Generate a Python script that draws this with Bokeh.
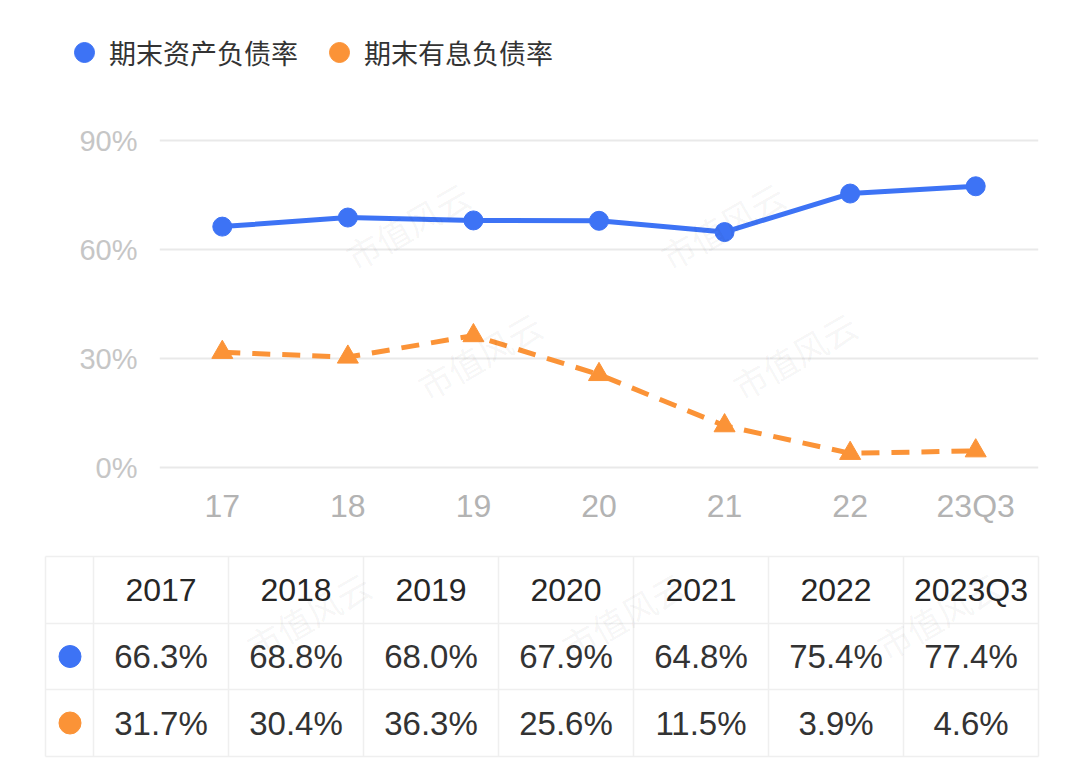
from bokeh.plotting import figure
from bokeh.layouts import column
from bokeh.models import (FactorRange, Range1d, FixedTicker, PrintfTickFormatter,
                          Legend, LegendItem, Label, ColumnDataSource)
from bokeh.embed import file_html
from bokeh.resources import INLINE
from bokeh.core.properties import value

# ---- data ----
categories = ["17", "18", "19", "20", "21", "22", "23Q3"]
years = ["2017", "2018", "2019", "2020", "2021", "2022", "2023Q3"]
asset_liability_ratio = [66.3, 68.8, 68.0, 67.9, 64.8, 75.4, 77.4]
interest_debt_ratio = [31.7, 30.4, 36.3, 25.6, 11.5, 3.9, 4.6]
y_ticks = [0, 30, 60, 90]
series_names = ["期末资产负债率", "期末有息负债率"]

BLUE = "#3d73f5"
ORANGE = "#fb9337"
CJK = "Noto Sans CJK SC"
NUM = "Liberation Sans"
W = 1083
LEGEND_H = 100
CHART_H = 440
TABLE_H = 237


def blank_panel(height):
    f = figure(width=W, height=height, x_range=Range1d(0, W), y_range=Range1d(height, 0),
               output_backend="svg", toolbar_location=None, min_border=0)
    f.axis.visible = False
    f.grid.visible = False
    f.outline_line_color = None
    f.background_fill_color = "white"
    f.border_fill_color = "white"
    f.frame_align = False
    return f


# ---- legend strip ----
lg = blank_panel(LEGEND_H)
nan = float("nan")
sw_a = lg.scatter(x=[nan], y=[nan], marker="circle", fill_color=BLUE, line_color=BLUE)
sw_b = lg.scatter(x=[nan], y=[nan], marker="circle", fill_color=ORANGE, line_color=ORANGE)
legend = Legend(items=[LegendItem(label=series_names[0], renderers=[sw_a]),
                       LegendItem(label=series_names[1], renderers=[sw_b])],
                orientation="horizontal", location=(59, LEGEND_H - 77),
                glyph_width=50, glyph_height=50, label_standoff=0, spacing=16,
                padding=0, margin=0, border_line_color=None,
                background_fill_alpha=0, label_text_font=CJK,
                label_text_font_size="27px", label_text_color="#333333")
lg.add_layout(legend)

# ---- line chart ----
frame_left, frame_right = 159, 1038
chart_top, chart_bottom = 110, 480          # frame edges in page pixels
frame_top, frame_bottom = chart_top - LEGEND_H, chart_bottom - LEGEND_H
px_per_pct = (467 - 140) / 90.0
y_start = -(chart_bottom - 467) / px_per_pct
y_end = 90 + (140 - chart_top) / px_per_pct

p = figure(width=W, height=CHART_H, x_range=FactorRange(factors=categories),
           y_range=Range1d(y_start, y_end), output_backend="svg",
           toolbar_location=None, min_border_left=frame_left,
           min_border_right=W - frame_right, min_border_top=frame_top,
           min_border_bottom=CHART_H - frame_bottom)
p.frame_align = False
p.outline_line_color = None
p.background_fill_color = "white"
p.border_fill_color = "white"

p.xgrid.grid_line_color = None
p.ygrid.ticker = FixedTicker(ticks=y_ticks)
p.ygrid.grid_line_color = "#e9e9e9"
p.ygrid.grid_line_width = 2

for ax in (p.xaxis[0], p.yaxis[0]):
    ax.axis_line_color = None
    ax.major_tick_line_color = None
    ax.minor_tick_line_color = None
p.yaxis.ticker = FixedTicker(ticks=y_ticks)
p.yaxis.formatter = PrintfTickFormatter(format="%d%%")
p.yaxis.major_label_text_font = NUM
p.yaxis.major_label_text_font_size = "29px"
p.yaxis.major_label_text_color = "#c6c6c6"
p.yaxis.major_label_standoff = 16
p.xaxis.major_label_text_font = NUM
p.xaxis.major_label_text_font_size = "32px"
p.xaxis.major_label_text_color = "#b3b3b3"
p.xaxis.major_label_standoff = 1

src = ColumnDataSource(dict(cat=categories, a=asset_liability_ratio, b=interest_debt_ratio))
p.line("cat", "a", source=src, line_color=BLUE, line_width=5)
p.scatter("cat", "a", source=src, marker="circle", size=19, fill_color=BLUE, line_color=BLUE)
p.line("cat", "b", source=src, line_color=ORANGE, line_width=5, line_dash="18 12")
p.scatter("cat", "b", source=src, marker="triangle", size=21, fill_color=ORANGE, line_color=ORANGE)

# ---- data table ----
t = blank_panel(TABLE_H)
col_edges = [45, 93] + [93 + 135 * (i + 1) for i in range(len(years))]
row_edges = [16, 83, 149, 216]
BORDER = "#efefef"
t.segment(x0=[col_edges[0]] * len(row_edges), x1=[col_edges[-1]] * len(row_edges),
          y0=row_edges, y1=row_edges, line_color=BORDER, line_width=1.5)
t.segment(x0=col_edges, x1=col_edges, y0=[row_edges[0]] * len(col_edges),
          y1=[row_edges[-1]] * len(col_edges), line_color=BORDER, line_width=1.5)

centers = [(col_edges[i + 1] + col_edges[i + 2]) / 2 for i in range(len(years))]
row_mid = [(row_edges[i] + row_edges[i + 1]) / 2 for i in range(3)]
t.text(x=centers, y=[row_mid[0]] * len(years), text=years, text_align="center",
       text_baseline="middle", text_font=value(NUM), text_font_size="32px",
       text_color="#262626")
for r, (vals, colr) in enumerate([(asset_liability_ratio, BLUE), (interest_debt_ratio, ORANGE)]):
    t.text(x=centers, y=[row_mid[r + 1]] * len(vals), text=[f"{v:.1f}%" for v in vals],
           text_align="center", text_baseline="middle", text_font=value(NUM),
           text_font_size="33px", text_color="#333333")
    t.scatter(x=[(col_edges[0] + col_edges[1]) / 2 + 0.5], y=[row_mid[r + 1]], marker="circle",
              size=22, fill_color=colr, line_color=colr)

# ---- faint watermark lattice (page coordinates); only whole stamps are drawn ----
HALF_W, HALF_H = 68, 50

def watermark_points():
    pts = []
    for j in range(-1, 8):
        for i in range(-2, 5):
            pts.append((20 + 315 * i + 72 * j, 95 + 130 * j))
    return pts

def fits(x, y, left, top, right, bottom):
    return left <= x - HALF_W and x + HALF_W <= right and top <= y - HALF_H and y + HALF_H <= bottom

wm = dict(text="市值风云", text_align="center", text_baseline="middle",
          angle=0.52, text_font=CJK, text_font_size="34px",
          text_color="#000000", text_alpha=0.05)
top_table = LEGEND_H + CHART_H
for (x, y) in watermark_points():
    if fits(x, y, 0, 0, W, LEGEND_H):
        lg.add_layout(Label(x=x, y=y, **wm))
    elif fits(x, y, frame_left, chart_top, frame_right, chart_bottom):
        p.add_layout(Label(x=x - frame_left, y=chart_bottom - y, x_units="screen",
                           y_units="screen", **wm))
    elif fits(x, y, 0, top_table, W, top_table + TABLE_H):
        t.add_layout(Label(x=x, y=y - top_table, **wm))

layout = column(lg, p, t, spacing=0)
open("out.html", "w").write(file_html(layout, INLINE))
